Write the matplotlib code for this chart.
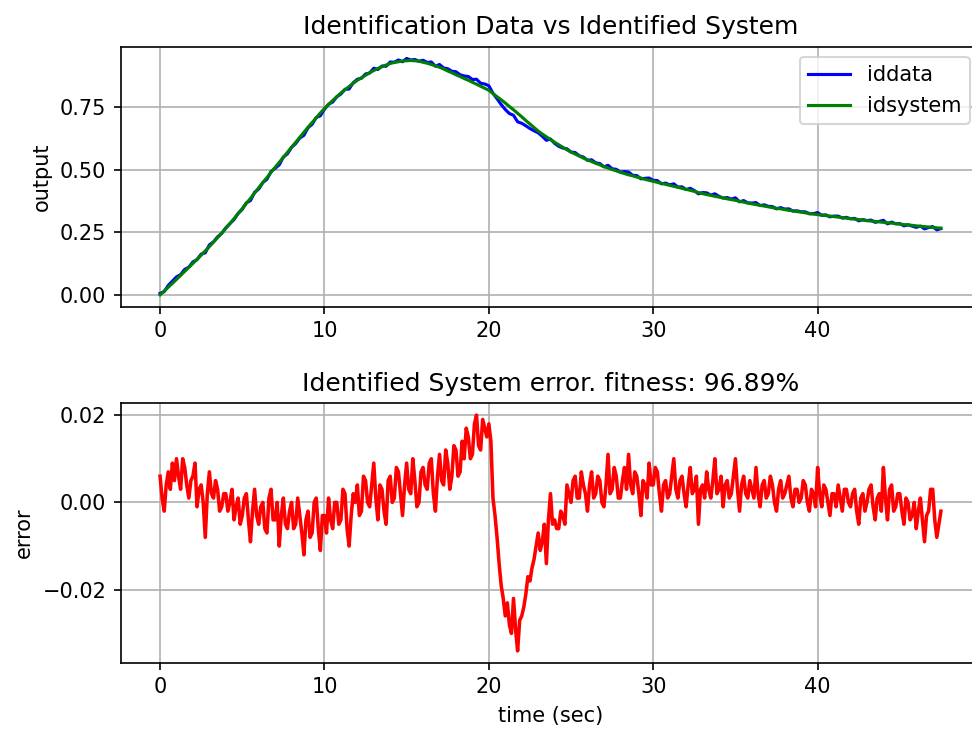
import numpy as np
import matplotlib
matplotlib.use('Agg')
import matplotlib.pyplot as plt
from matplotlib.ticker import MultipleLocator

# model sample times (s), one every quarter second
t_sys = np.linspace(0, 47.5, 191)
# error sample times (s), one every eighth of a second
t_err = np.linspace(0, 47.5, 381)

# identified model response
idsystem = np.array([
    0.000, 0.015, 0.031, 0.046, 0.062, 0.078, 0.094, 0.110, 0.126, 0.142,
    0.159, 0.176, 0.193, 0.211, 0.229, 0.247, 0.266, 0.285, 0.305, 0.325,
    0.345, 0.366, 0.386, 0.407, 0.428, 0.449, 0.469, 0.490, 0.510, 0.530,
    0.550, 0.570, 0.590, 0.610, 0.630, 0.650, 0.670, 0.689, 0.708, 0.727,
    0.745, 0.761, 0.777, 0.792, 0.807, 0.820, 0.833, 0.846, 0.858, 0.868,
    0.878, 0.888, 0.897, 0.905, 0.912, 0.919, 0.925, 0.929, 0.932, 0.935,
    0.936, 0.937, 0.936, 0.934, 0.930, 0.926, 0.921, 0.916, 0.910, 0.903,
    0.895, 0.888, 0.880, 0.873, 0.865, 0.858, 0.850, 0.842, 0.834, 0.826,
    0.818, 0.805, 0.792, 0.780, 0.767, 0.753, 0.740, 0.726, 0.712, 0.697,
    0.683, 0.669, 0.655, 0.643, 0.632, 0.621, 0.610, 0.600, 0.590, 0.580,
    0.571, 0.563, 0.555, 0.547, 0.540, 0.533, 0.526, 0.520, 0.513, 0.507,
    0.501, 0.496, 0.490, 0.485, 0.480, 0.476, 0.471, 0.467, 0.462, 0.458,
    0.454, 0.450, 0.446, 0.442, 0.438, 0.434, 0.430, 0.426, 0.422, 0.418,
    0.414, 0.409, 0.405, 0.401, 0.398, 0.394, 0.391, 0.388, 0.384, 0.381,
    0.378, 0.374, 0.371, 0.367, 0.364, 0.361, 0.358, 0.355, 0.352, 0.349,
    0.346, 0.344, 0.341, 0.338, 0.336, 0.333, 0.331, 0.328, 0.326, 0.323,
    0.321, 0.319, 0.317, 0.315, 0.313, 0.311, 0.309, 0.307, 0.305, 0.303,
    0.301, 0.299, 0.297, 0.295, 0.294, 0.292, 0.290, 0.288, 0.287, 0.285,
    0.283, 0.281, 0.280, 0.278, 0.276, 0.274, 0.273, 0.271, 0.270, 0.268,
    0.267,
])

# measured minus model, one row per second
error = np.array([
    0.006, 0.001, -0.002, 0.004, 0.007, 0.003, 0.009, 0.005,
    0.010, 0.006, 0.003, 0.010, 0.008, 0.004, 0.001, 0.005,
    0.006, 0.009, -0.001, 0.003, 0.004, 0.000, -0.008, 0.002,
    0.007, 0.002, 0.001, 0.005, 0.003, -0.002, -0.001, 0.002,
    0.002, -0.002, 0.000, 0.003, -0.004, -0.001, 0.001, -0.005,
    -0.003, 0.001, 0.002, -0.004, -0.009, -0.002, 0.003, -0.003,
    -0.005, -0.001, 0.000, -0.006, -0.007, 0.001, 0.003, -0.004,
    -0.004, 0.000, -0.010, -0.003, 0.001, -0.005, -0.006, -0.002,
    0.000, -0.006, -0.005, 0.001, -0.003, -0.007, -0.012, -0.004,
    -0.002, -0.008, -0.007, 0.000, 0.001, -0.006, -0.011, -0.003,
    -0.003, -0.007, 0.001, -0.004, -0.006, 0.000, 0.000, -0.005,
    -0.004, 0.003, 0.002, -0.006, -0.010, -0.003, 0.002, 0.000,
    0.004, -0.003, -0.002, 0.006, 0.005, 0.000, -0.001, 0.004,
    0.009, 0.001, -0.004, 0.004, 0.003, -0.002, -0.005, 0.005,
    0.006, 0.000, 0.001, 0.008, 0.007, 0.002, -0.003, 0.004,
    0.009, 0.003, 0.002, 0.010, 0.005, -0.001, 0.000, 0.007,
    0.008, 0.004, 0.003, 0.009, 0.010, 0.002, -0.002, 0.006,
    0.011, 0.005, 0.004, 0.012, 0.009, 0.003, 0.006, 0.013,
    0.012, 0.006, 0.007, 0.014, 0.010, 0.017, 0.015, 0.010,
    0.011, 0.018, 0.020, 0.013, 0.012, 0.019, 0.017, 0.015,
    0.018, 0.014, 0.001, -0.003, -0.008, -0.014, -0.019, -0.022,
    -0.026, -0.023, -0.028, -0.030, -0.022, -0.029, -0.034, -0.027,
    -0.026, -0.024, -0.021, -0.017, -0.018, -0.015, -0.013, -0.010,
    -0.007, -0.011, -0.009, -0.005, -0.014, -0.004, 0.002, -0.005,
    -0.004, -0.006, -0.006, -0.002, -0.003, -0.005, 0.004, 0.002,
    0.000, 0.005, 0.006, 0.001, 0.001, 0.007, 0.004, 0.002,
    -0.002, 0.004, 0.007, 0.001, 0.002, 0.006, 0.005, 0.000,
    -0.001, 0.004, 0.011, 0.002, 0.003, 0.008, 0.006, 0.001,
    0.001, 0.005, 0.008, 0.003, 0.011, 0.004, 0.002, 0.007,
    0.006, 0.002, -0.003, 0.005, 0.004, 0.001, 0.009, 0.004,
    0.004, 0.008, 0.007, 0.002, -0.002, 0.004, 0.005, 0.001,
    0.002, 0.006, 0.010, 0.003, 0.001, 0.005, 0.006, 0.002,
    -0.001, 0.004, 0.008, 0.002, 0.003, 0.006, -0.005, 0.003,
    0.004, 0.001, 0.007, 0.003, 0.001, 0.005, 0.010, 0.002,
    0.003, 0.006, -0.001, 0.004, 0.005, 0.001, 0.002, 0.006,
    0.010, 0.003, -0.002, 0.004, 0.006, 0.002, 0.001, 0.005,
    0.003, 0.001, 0.008, 0.002, -0.001, 0.004, 0.005, 0.001,
    0.002, 0.006, 0.004, 0.000, -0.002, 0.003, 0.005, 0.001,
    0.002, 0.004, 0.006, 0.001, -0.001, 0.003, 0.003, 0.000,
    0.001, 0.005, 0.004, 0.000, -0.002, 0.003, 0.002, -0.001,
    0.008, 0.002, -0.001, 0.004, 0.003, 0.000, -0.003, 0.002,
    0.002, -0.001, 0.004, 0.001, -0.002, 0.003, 0.003, 0.000,
    -0.001, 0.002, 0.003, -0.002, -0.005, 0.001, 0.002, -0.002,
    0.000, 0.003, 0.004, -0.001, -0.004, 0.001, 0.002, -0.002,
    0.008, 0.001, -0.004, 0.003, 0.004, -0.002, -0.001, 0.002,
    0.002, -0.002, -0.005, 0.001, 0.000, -0.004, -0.003, 0.000,
    -0.006, -0.002, 0.001, -0.004, -0.009, -0.003, -0.002, 0.003,
    0.003, -0.004, -0.008, -0.005, -0.002,
])

# measured output at the model sample times
iddata = idsystem + error[::2]
fitness = 96.89

fig = plt.figure(figsize=(6.48, 4.9), dpi=150)
ax1 = fig.add_axes([0.1245, 0.5827, 0.8837, 0.3538])
ax2 = fig.add_axes([0.1245, 0.0984, 0.8837, 0.3529])

ax1.plot(t_sys, iddata, 'b', label='iddata')
ax1.plot(t_sys, idsystem, 'g', label='idsystem')
ax1.set_ylabel('output')
ax1.set_title('Identification Data vs Identified System')
ax1.yaxis.set_major_locator(MultipleLocator(0.25))
ax1.legend(loc='upper right')
ax1.grid(True)

ax2.plot(t_err, error, 'r', lw=1.7)
ax2.set_ylabel('error')
ax2.set_xlabel('time (sec)')
ax2.set_title('Identified System error. fitness: %.2f%%' % fitness)
ax2.yaxis.set_major_locator(MultipleLocator(0.02))
ax2.grid(True)

fig.savefig('out.png', dpi=150)
